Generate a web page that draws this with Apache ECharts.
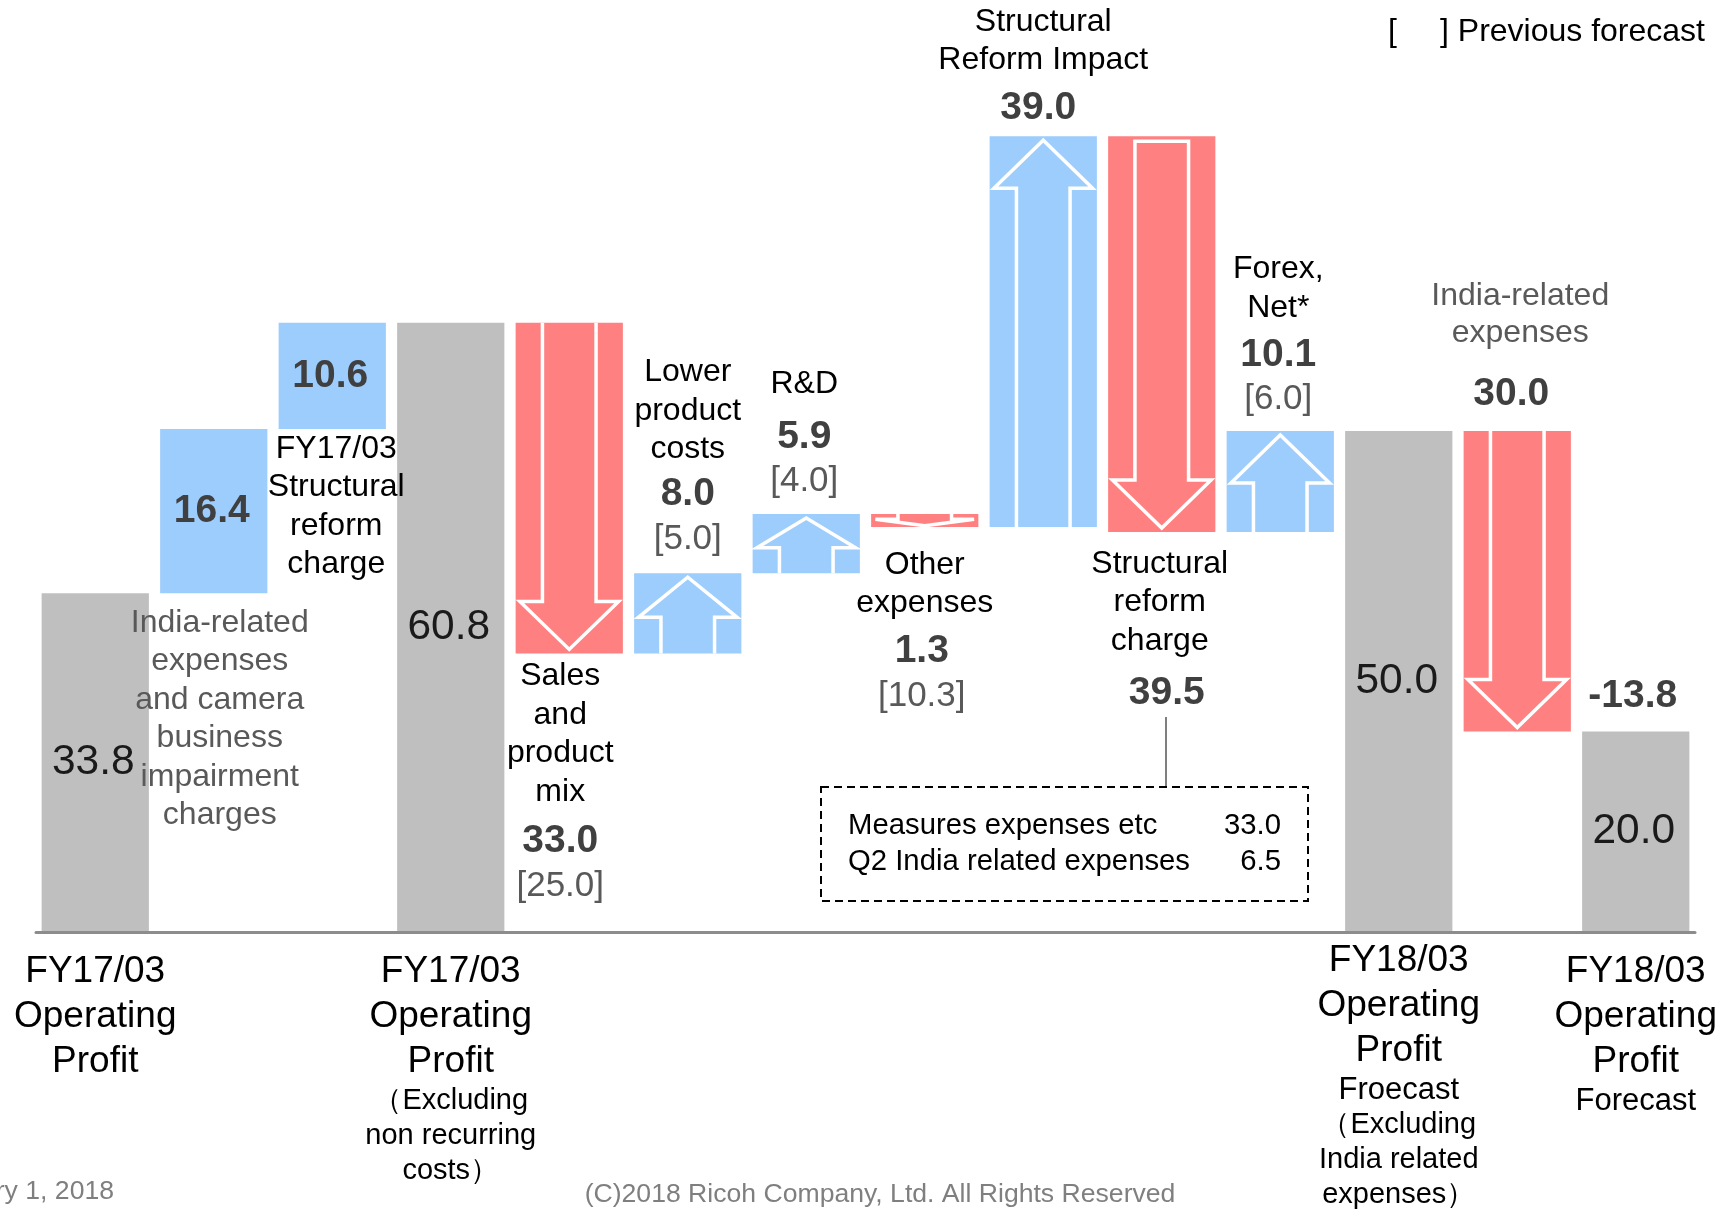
<!DOCTYPE html>
<html>
<head>
<meta charset="utf-8">
<script src="https://cdn.jsdelivr.net/npm/echarts@6/dist/echarts.min.js"></script>
<style>
  html, body { margin: 0; padding: 0; background: #ffffff; }
  #chart { width: 1730px; height: 1213px; }
</style>
</head>
<body>
<div id="chart"></div>
<script>
// ---- data ----
const categories = [
  'FY17/03\nOperating\nProfit',
  'India-related\nexpenses\nand camera\nbusiness\nimpairment\ncharges',
  'FY17/03\nStructural\nreform\ncharge',
  'FY17/03\nOperating\nProfit',
  'Sales\nand\nproduct\nmix',
  'Lower\nproduct\ncosts',
  'R&D',
  'Other\nexpenses',
  'Structural\nReform Impact',
  'Structural\nreform\ncharge',
  'Forex,\nNet*',
  'FY18/03\nOperating\nProfit',
  'India-related\nexpenses',
  'FY18/03\nOperating\nProfit'
];
const subLabels = [
  [], [], [], ['（Excluding', 'non recurring', 'costs）'],
  [], [], [], [], [], [], [],
  ['Froecast', '（Excluding', 'India related', 'expenses）'],
  [], ['Forecast']
];
const steps = ['total', 'up', 'up', 'total', 'down', 'up', 'up', 'down', 'up', 'down', 'up', 'total', 'down', 'total'];
const amounts = [33.8, 16.4, 10.6, 60.8, 33.0, 8.0, 5.9, 1.3, 39.0, 39.5, 10.1, 50.0, 30.0, 20.0];
const previousForecast = [null, null, null, null, 25.0, 5.0, 4.0, 10.3, null, null, 6.0, null, null, null];
const breakdownItems = ['Measures expenses etc', 'Q2 India related expenses'];
const breakdownValues = [33.0, 6.5];

// ---- styling ----
const FONT = "'Liberation Sans', Arial, sans-serif";
const COLORS = { total: '#bfbfbf', up: '#9dcdfc', down: '#ff8080' };
const arrowKind = ['none', 'none', 'none', 'none', 'open', 'open', 'open', 'open', 'open', 'closed', 'open', 'none', 'open', 'none'];
const boldInside = { 1: true, 2: true };
const labelLayout = {
  1:  { side: 'below', first: 30, dx: 6, step: 38.4, color: '#595959' },
  2:  { side: 'below', first: 20, dx: 4 },
  4:  { side: 'below', first: 23, dx: -9, valGap: 49, prevGap: 45 },
  5:  { side: 'above', first: 33.5, valGap: 45, prevGap: 45.5 },
  6:  { side: 'above', first: 33, dx: -2, valGap: 53, prevGap: 44 },
  7:  { side: 'below', first: 38, valDx: -3, valGap: 48, prevGap: 45 },
  8:  { side: 'above', first: 28, valDx: -5, valGap: 48 },
  9:  { side: 'below', first: 32, dx: -2, valDx: 5, valGap: 52 },
  10: { side: 'above', first: 31.5, dx: -2, valGap: 47, prevGap: 44.5 },
  12: { side: 'above', first: 37, dx: 3, valDx: -6, valGap: 61, step: 37, color: '#595959' }
};
const axisLabelTop = { 11: 29 };
const SIZE = { name: 32, value: 39, prev: 35, total: 42.5, axisBig: 37, axisSmall: 29 };

const round1 = v => Math.round(v * 10) / 10;

// floating segments of the bridge
let level = 0;
const barData = amounts.map((v, i) => {
  let lo, hi;
  if (steps[i] === 'total') { lo = 0; hi = v; level = v; }
  else if (steps[i] === 'up') { lo = level; hi = round1(level + v); level = hi; }
  else { hi = level; lo = round1(level - v); level = lo; }
  return [i, lo, hi];
});
const yearChange = round1(amounts[13] - amounts[0]);

function txt(x, y, text, size, weight, color, align) {
  return {
    type: 'text', x: x, y: y, silent: true, z2: 100,
    style: {
      text: text, fontSize: size, fontWeight: weight || 'normal', fontFamily: FONT,
      fill: color || '#000', align: align || 'center', verticalAlign: 'middle'
    }
  };
}

function arrowShape(kind, dir, L, R, T, B) {
  const w = R - L, H = B - T, cx = (L + R) / 2;
  const sI = 0.25 * w, hI = 0.04 * w;
  const tipI = Math.min(4, 0.1 * H);
  const headH = Math.min(48, 0.5 * H);
  let pts;
  if (dir === 'up') {
    const hb = T + tipI + headH;
    pts = [[L + sI, B], [L + sI, hb], [L + hI, hb], [cx, T + tipI], [R - hI, hb], [R - sI, hb], [R - sI, B]];
  } else {
    const hb = B - tipI - headH;
    const top = kind === 'closed' ? T + 5 : T;
    pts = [[L + sI, top], [L + sI, hb], [L + hI, hb], [cx, B - tipI], [R - hI, hb], [R - sI, hb], [R - sI, top]];
  }
  return {
    type: kind === 'closed' ? 'polygon' : 'polyline', z2: 10,
    shape: { points: pts },
    style: { stroke: '#ffffff', lineWidth: 3.5, fill: null, lineJoin: 'miter' }
  };
}

function renderBar(params, api) {
  const i = api.value(0), lo = api.value(1), hi = api.value(2);
  const kind = steps[i];
  const pTop = api.coord([i, hi]), pBot = api.coord([i, lo]);
  const w = api.size([1, 0])[0] * 0.905;
  const cx = pTop[0], L = cx - w / 2, R = cx + w / 2, T = pTop[1], B = pBot[1];
  const kids = [{ type: 'rect', z2: 1, shape: { x: L, y: T, width: w, height: B - T }, style: { fill: COLORS[kind] } }];

  if (arrowKind[i] !== 'none') kids.push(arrowShape(arrowKind[i], kind, L, R, T, B));

  const valueText = amounts[i].toFixed(1);
  if (kind === 'total') {
    kids.push(txt(cx - 2, (T + B) / 2, valueText, SIZE.total, 'normal', '#1a1a1a'));
    // category text under the baseline
    const base = api.coord([i, 0])[1];
    let y = base + (axisLabelTop[i] || 40);
    const big = categories[i].split('\n');
    big.forEach((s, k) => { if (k) y += 44.7; kids.push(txt(cx, y, s, SIZE.axisBig, 'normal', '#000')); });
    subLabels[i].forEach((s, k) => {
      y += k ? 35 : 40;
      const size = s.indexOf('ecast') >= 0 || s.indexOf('oecast') >= 0 ? 31 : SIZE.axisSmall;
      kids.push(txt(cx, y, s, size, 'normal', '#000'));
    });
  } else if (boldInside[i]) {
    kids.push(txt(cx - 2, (T + B) / 2, valueText, SIZE.value, 'bold', '#404040'));
  }

  const lay = labelLayout[i];
  if (lay) {
    const names = categories[i].split('\n');
    const step = lay.step || 38.5;
    const x = cx + (lay.dx || 0);
    const vx = cx + (lay.valDx || lay.dx || 0);
    const color = lay.color || '#000';
    const showVal = !boldInside[i];
    const prev = previousForecast[i];
    if (lay.side === 'below') {
      let y = B + lay.first;
      names.forEach((n, k) => { if (k) y += step; kids.push(txt(x, y, n, SIZE.name, 'normal', color)); });
      if (showVal) {
        y += lay.valGap;
        kids.push(txt(vx, y, valueText, SIZE.value, 'bold', '#404040'));
        if (prev != null) { y += lay.prevGap; kids.push(txt(vx, y, '[' + prev.toFixed(1) + ']', SIZE.prev, 'normal', '#595959')); }
      }
    } else {
      let y = T - lay.first;
      if (prev != null) { kids.push(txt(vx, y, '[' + prev.toFixed(1) + ']', SIZE.prev, 'normal', '#595959')); y -= lay.prevGap; }
      kids.push(txt(vx, y, valueText, SIZE.value, 'bold', '#404040'));
      y -= lay.valGap;
      for (let k = names.length - 1; k >= 0; k--) { kids.push(txt(x, y, names[k], SIZE.name, 'normal', color)); y -= step; }
    }
  }

  if (i === amounts.length - 1) {
    kids.push(txt(cx - 3, T - 35, yearChange.toFixed(1), SIZE.value, 'bold', '#404040'));
  }
  return { type: 'group', children: kids };
}

const chart = echarts.init(document.getElementById('chart'), null, { renderer: 'canvas' });
chart.setOption({
  animation: false,
  backgroundColor: '#ffffff',
  grid: { left: 36, right: 35, top: 30, bottom: 281, containLabel: false },
  xAxis: {
    type: 'category',
    data: categories,
    z: 10,
    axisLine: { show: true, lineStyle: { color: '#8c8c8c', width: 3 } },
    axisTick: { show: false },
    axisLabel: { show: false },
    splitLine: { show: false }
  },
  yAxis: { type: 'value', min: 0, max: 90, show: false },
  series: [{
    type: 'custom',
    clip: false,
    renderItem: renderBar,
    encode: { x: 0, y: [1, 2] },
    data: barData
  }],
  graphic: [
    // legend for bracketed numbers
    { type: 'text', left: 1388, top: 16, style: { text: '[', fontSize: 32, fontFamily: FONT, fill: '#000' } },
    { type: 'text', left: 1440, top: 16, style: { text: '] Previous forecast', fontSize: 32, fontFamily: FONT, fill: '#000' } },
    // breakdown of the structural reform charge
    { type: 'line', shape: { x1: 1166, y1: 717, x2: 1166, y2: 787 }, style: { stroke: '#7f7f7f', lineWidth: 2 } },
    { type: 'rect', shape: { x: 821, y: 787, width: 487, height: 114 },
      style: { fill: null, stroke: '#000', lineWidth: 2, lineDash: [8, 5] } },
    { type: 'text', x: 848, y: 826, style: { text: breakdownItems[0], fontSize: 29.3, fontFamily: FONT, fill: '#000', verticalAlign: 'middle' } },
    { type: 'text', x: 848, y: 862, style: { text: breakdownItems[1], fontSize: 29.3, fontFamily: FONT, fill: '#000', verticalAlign: 'middle' } },
    { type: 'text', x: 1281, y: 826, style: { text: breakdownValues[0].toFixed(1), fontSize: 29.3, fontFamily: FONT, fill: '#000', align: 'right', verticalAlign: 'middle' } },
    { type: 'text', x: 1281, y: 862, style: { text: breakdownValues[1].toFixed(1), fontSize: 29.3, fontFamily: FONT, fill: '#000', align: 'right', verticalAlign: 'middle' } },
    // footer
    { type: 'text', x: 114, y: 1192, style: { text: 'February 1, 2018', fontSize: 26.6, fontFamily: FONT, fill: '#7f7f7f', align: 'right', verticalAlign: 'middle' } },
    { type: 'text', x: 880, y: 1195, style: { text: '(C)2018 Ricoh Company, Ltd. All Rights Reserved', fontSize: 26.6, fontFamily: FONT, fill: '#7f7f7f', align: 'center', verticalAlign: 'middle' } }
  ]
});
</script>
</body>
</html>
